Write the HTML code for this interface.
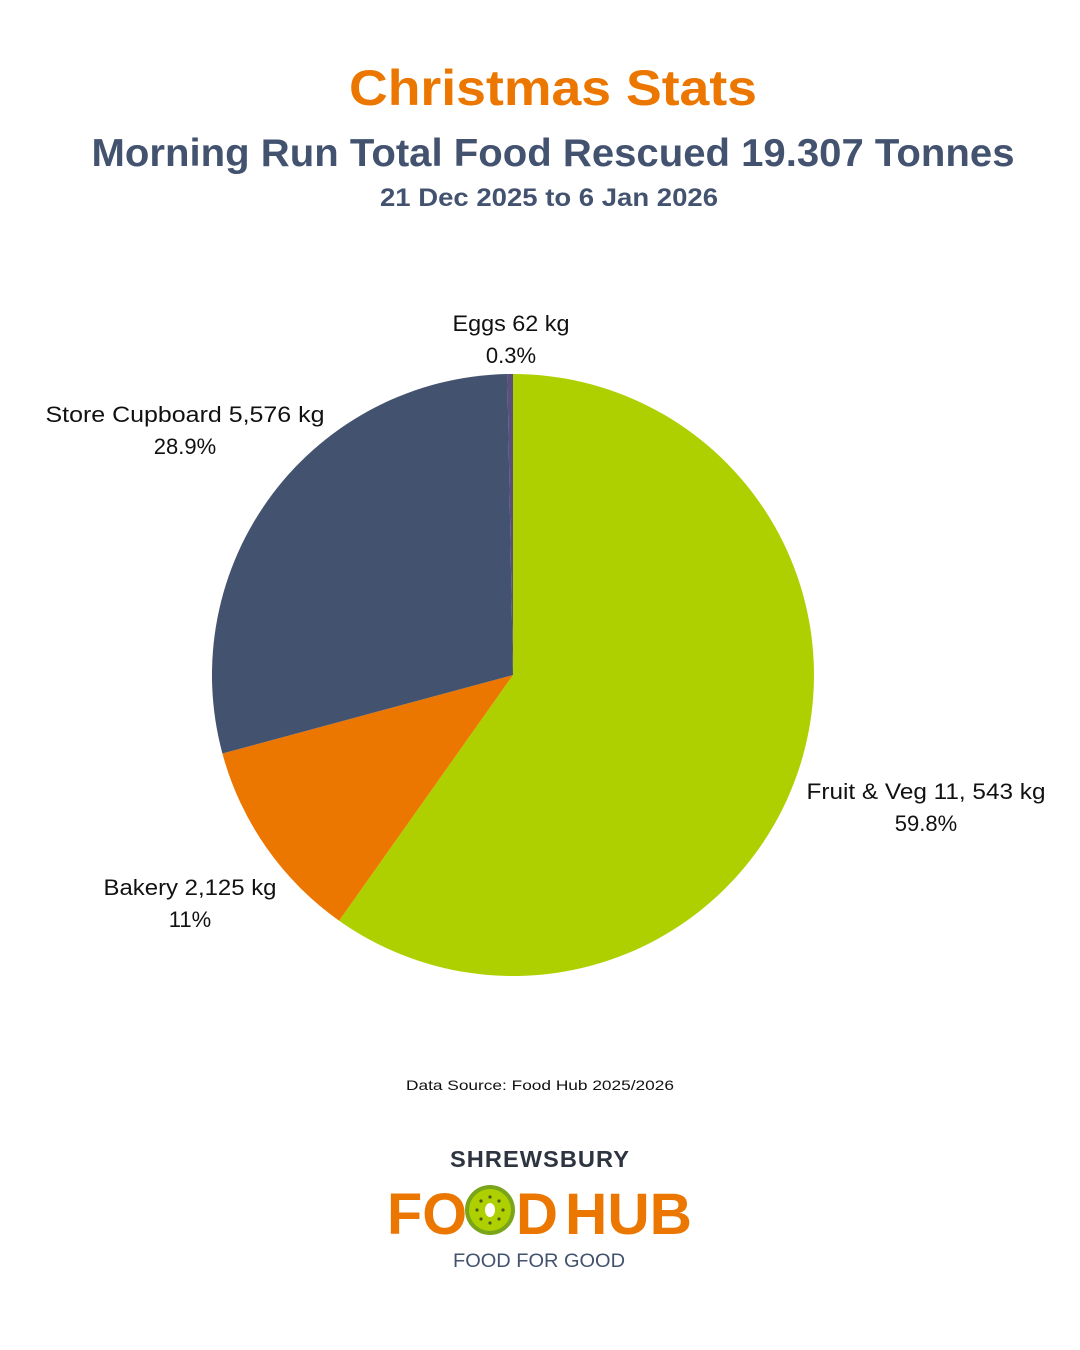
<!DOCTYPE html>
<html><head><meta charset="utf-8"><style>
html,body{margin:0;padding:0;background:#fff;}
svg{display:block;}
text{font-family:"Liberation Sans",sans-serif;}
</style></head><body>
<svg width="1080" height="1350" viewBox="0 0 1080 1350" xmlns="http://www.w3.org/2000/svg">
<rect width="1080" height="1350" fill="#fff"/>
<text x="553" y="105" text-anchor="middle" font-size="50" font-weight="bold" fill="#ec7700" textLength="408" lengthAdjust="spacingAndGlyphs">Christmas Stats</text>
<text x="553" y="166" text-anchor="middle" font-size="39" font-weight="bold" fill="#43536f" textLength="923" lengthAdjust="spacingAndGlyphs">Morning Run Total Food Rescued 19.307 Tonnes</text>
<text x="549" y="206" text-anchor="middle" font-size="25" font-weight="bold" fill="#43536f" textLength="338" lengthAdjust="spacingAndGlyphs">21 Dec 2025 to 6 Jan 2026</text>

<path d="M513,675 L513,374 A301,301 0 1 1 339.1,920.7 Z" fill="#aed000"/>
<path d="M513,675 L339.1,920.7 A301,301 0 0 1 222.4,753.5 Z" fill="#ec7700"/>
<path d="M513,675 L222.4,753.5 A301,301 0 0 1 507.3,374.05 Z" fill="#43536f"/>
<path d="M513,675 L507.3,374.05 A301,301 0 0 1 513,374 Z" fill="#5b4f7c"/>

<g font-size="22" fill="#111" text-anchor="middle">
<text x="511" y="331" textLength="117" lengthAdjust="spacingAndGlyphs">Eggs 62 kg</text>
<text x="511" y="363">0.3%</text>
<text x="185" y="422" textLength="279" lengthAdjust="spacingAndGlyphs">Store Cupboard 5,576 kg</text>
<text x="185" y="454">28.9%</text>
<text x="926" y="799" textLength="239" lengthAdjust="spacingAndGlyphs">Fruit &amp; Veg 11, 543 kg</text>
<text x="926" y="831">59.8%</text>
<text x="190" y="895" textLength="173" lengthAdjust="spacingAndGlyphs">Bakery 2,125 kg</text>
<text x="190" y="927">11%</text>
</g>
<text x="540" y="1090" text-anchor="middle" font-size="14" fill="#111" textLength="268" lengthAdjust="spacingAndGlyphs">Data Source:  Food Hub 2025/2026</text>

<text x="540" y="1167" text-anchor="middle" font-size="23" font-weight="bold" fill="#2e3440" letter-spacing="1" textLength="180" lengthAdjust="spacingAndGlyphs">SHREWSBURY</text>
<g font-size="58" font-weight="bold" fill="#ec7700">
<text x="387" y="1234" textLength="80" lengthAdjust="spacingAndGlyphs">FO</text>
<text x="516" y="1234" textLength="42" lengthAdjust="spacingAndGlyphs">D</text>
<text x="565" y="1234" textLength="127" lengthAdjust="spacingAndGlyphs">HUB</text>
</g>
<circle cx="490" cy="1210" r="25" fill="#7aa51a"/>
<circle cx="490" cy="1210" r="21" fill="#aed000"/>
<ellipse cx="490" cy="1210" rx="5" ry="7" fill="#fff"/>
<g fill="#4a5a20">
<circle cx="490" cy="1197" r="1.6"/><circle cx="490" cy="1223" r="1.6"/>
<circle cx="477" cy="1210" r="1.6"/><circle cx="503" cy="1210" r="1.6"/>
<circle cx="481" cy="1201" r="1.6"/><circle cx="499" cy="1201" r="1.6"/>
<circle cx="481" cy="1219" r="1.6"/><circle cx="499" cy="1219" r="1.6"/>
</g>
<text x="539" y="1267" text-anchor="middle" font-size="19" fill="#43536f" textLength="172" lengthAdjust="spacingAndGlyphs">FOOD FOR GOOD</text>
</svg>
</body></html>
